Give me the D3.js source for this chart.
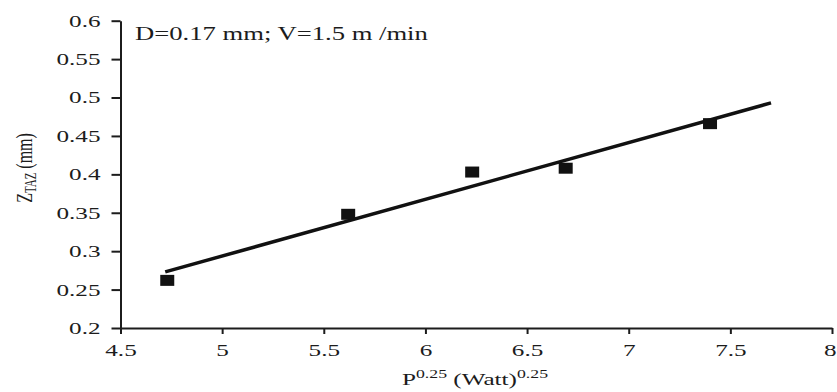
<!DOCTYPE html>
<meta charset="utf-8">
<style>
  body { margin: 0; background: #fff; }
  * { font-family: 'Liberation Serif', 'Times New Roman', serif; }
</style>
<svg width="837" height="392"></svg>
<script src="https://d3js.org/d3.v7.min.js"></script>
<script>
// measured points: P^0.25 vs Z_TAZ
var pValues = [4.73, 5.62, 6.23, 6.69, 7.40];
var zValues = [0.262, 0.348, 0.403, 0.408, 0.466];
// fitted line end points
var fitP = [4.72, 7.70];
var fitZ = [0.273, 0.493];
var xTicks = [4.5, 5, 5.5, 6, 6.5, 7, 7.5, 8];
var yTicks = [0.2, 0.25, 0.3, 0.35, 0.4, 0.45, 0.5, 0.55, 0.6];

var svg = d3.select("svg"),
    ink = "#1c1c1c",
    sx = 1.48; // the source is stretched sideways, text too

var x = d3.scaleLinear().domain([4.5, 8]).range([120.5, 832]);
var y = d3.scaleLinear().domain([0.2, 0.6]).range([328, 20.7]);

var xAxis = svg.append("g")
    .attr("transform", "translate(0,328)")
    .call(d3.axisBottom(x).tickValues(xTicks).tickSize(6).tickSizeOuter(0)
      .tickPadding(10).tickFormat(function(d) { return String(d); }));

var yAxis = svg.append("g")
    .attr("transform", "translate(120.5,0)")
    .call(d3.axisLeft(y).tickValues(yTicks).tickSize(9).tickSizeOuter(0)
      .tickFormat(function(d) { return String(d); }));

[xAxis, yAxis].forEach(function(ax) {
  ax.attr("font-family", null).attr("font-size", null);
  ax.select(".domain").attr("stroke", ink).attr("stroke-width", 2);
  ax.selectAll(".tick line").attr("stroke", ink).attr("stroke-width", 2);
  ax.selectAll(".tick text")
      .attr("fill", ink)
      .style("font-size", "17px")
      .attr("transform", "scale(" + sx + ",1)");
});
yAxis.selectAll(".tick text").attr("x", -20 / sx);
// last label sits at the right edge, keep it inside
xAxis.selectAll(".tick text").filter(function(d) { return d === 8; })
    .attr("text-anchor", "end").attr("x", 4 / sx);

// fitted line
svg.append("path")
    .datum(d3.zip(fitP, fitZ))
    .attr("fill", "none")
    .attr("stroke", "#111")
    .attr("stroke-width", 3.5)
    .attr("d", d3.line().x(function(d) { return x(d[0]); }).y(function(d) { return y(d[1]); }));

// square markers
svg.selectAll("rect.pt")
    .data(d3.zip(pValues, zValues))
  .enter().append("rect")
    .attr("class", "pt")
    .attr("x", function(d) { return x(d[0]) - 7; })
    .attr("y", function(d) { return y(d[1]) - 5.5; })
    .attr("width", 14)
    .attr("height", 11)
    .attr("fill", "#111");

// note
svg.append("text")
    .attr("transform", "translate(135,40) scale(" + sx + ",1)")
    .attr("fill", ink)
    .style("font-size", "18px")
    .text("D=0.17 mm; V=1.5 m /min");

// x label
var xl = svg.append("text")
    .attr("transform", "translate(475,385) scale(" + sx + ",1)")
    .attr("text-anchor", "middle")
    .attr("fill", ink)
    .style("font-size", "17px");
xl.append("tspan").text("P");
xl.append("tspan").attr("dy", -7).style("font-size", "12px").text("0.25");
xl.append("tspan").attr("dy", 7).text(" (Watt)");
xl.append("tspan").attr("dy", -7).style("font-size", "12px").text("0.25");

// y label
var yl = svg.append("text")
    .attr("transform", "translate(32,168) scale(" + sx + ",1) rotate(-90)")
    .attr("text-anchor", "middle")
    .attr("fill", ink)
    .style("font-size", "16px");
yl.append("tspan").text("Z");
yl.append("tspan").attr("dy", 3).style("font-size", "11px").text("TAZ");
yl.append("tspan").attr("dy", -3).text(" (mm)");
</script>
